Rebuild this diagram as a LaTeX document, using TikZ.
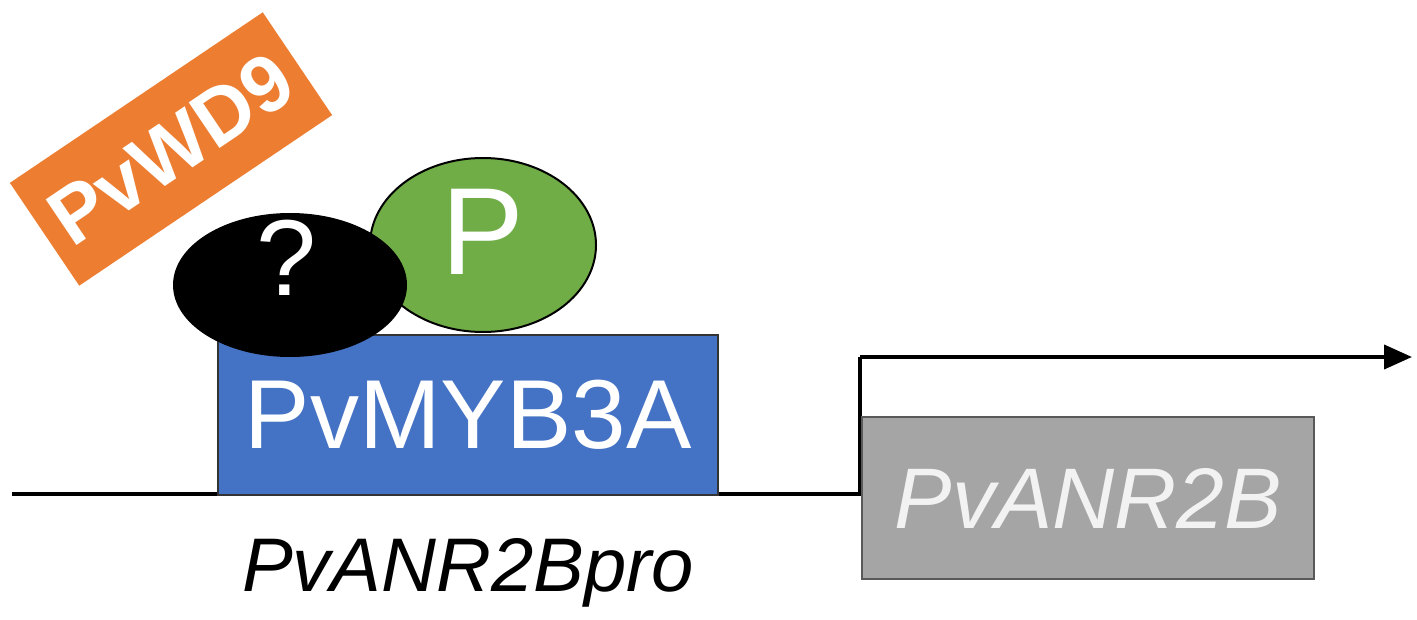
\documentclass[tikz,border=0pt]{standalone}
\usepackage{fontspec}
\setmainfont{Liberation Sans}
\usetikzlibrary{arrows.meta}
\definecolor{cblue}{HTML}{4472C4}
\definecolor{cgreen}{HTML}{70AD47}
\definecolor{corange}{HTML}{ED7D31}
\definecolor{cgray}{HTML}{A5A5A5}
\begin{document}
\begin{tikzpicture}[x=0.5pt,y=-0.5pt,
  box/.style={draw=black!80,line width=1.2pt,inner sep=0pt}]
\useasboundingbox (0,0) rectangle (1417,620);
\node[box,fill=corange,draw=none,minimum width=305*0.5pt,minimum height=124*0.5pt,rotate=34,text=white,font=\fontsize{40}{44}\selectfont\bfseries] (wd) at (171,149) {PvWD9};
\draw[line width=2pt] (12,494) coordinate (l0) -- (860,494) coordinate (l1) -- (860,357) coordinate (l2);
\draw[line width=2pt,-{Triangle[length=14pt,width=12pt]}] (l2) -- (1412,357) coordinate (l3);
\node[box,fill=cblue,minimum width=500*0.5pt,minimum height=160*0.5pt,anchor=north west,text=white,font=\fontsize{49}{54}\selectfont] (myb) at (217,334) {PvMYB3A};
\node[box,fill=cgray,draw=gray!70!black,minimum width=452*0.5pt,minimum height=162*0.5pt,anchor=north west,text=white!95!black,font=\fontsize{43}{48}\selectfont\itshape] (anr) at (861,416) {PvANR2B};
\fill[cgreen,draw=black,line width=1pt] (483,245) ellipse [x radius=113, y radius=87];
\node[text=white,font=\fontsize{62}{66}\selectfont] (p) at (483,232) {P};
\fill[black] (290,285) ellipse [x radius=117, y radius=72];
\node[text=white,font=\fontsize{54}{58}\selectfont] (q) at (287,258) {?};
\node[font=\fontsize{38}{42}\selectfont\itshape] (pro) at (468,573) {PvANR2Bpro};
\end{tikzpicture}
\end{document}
